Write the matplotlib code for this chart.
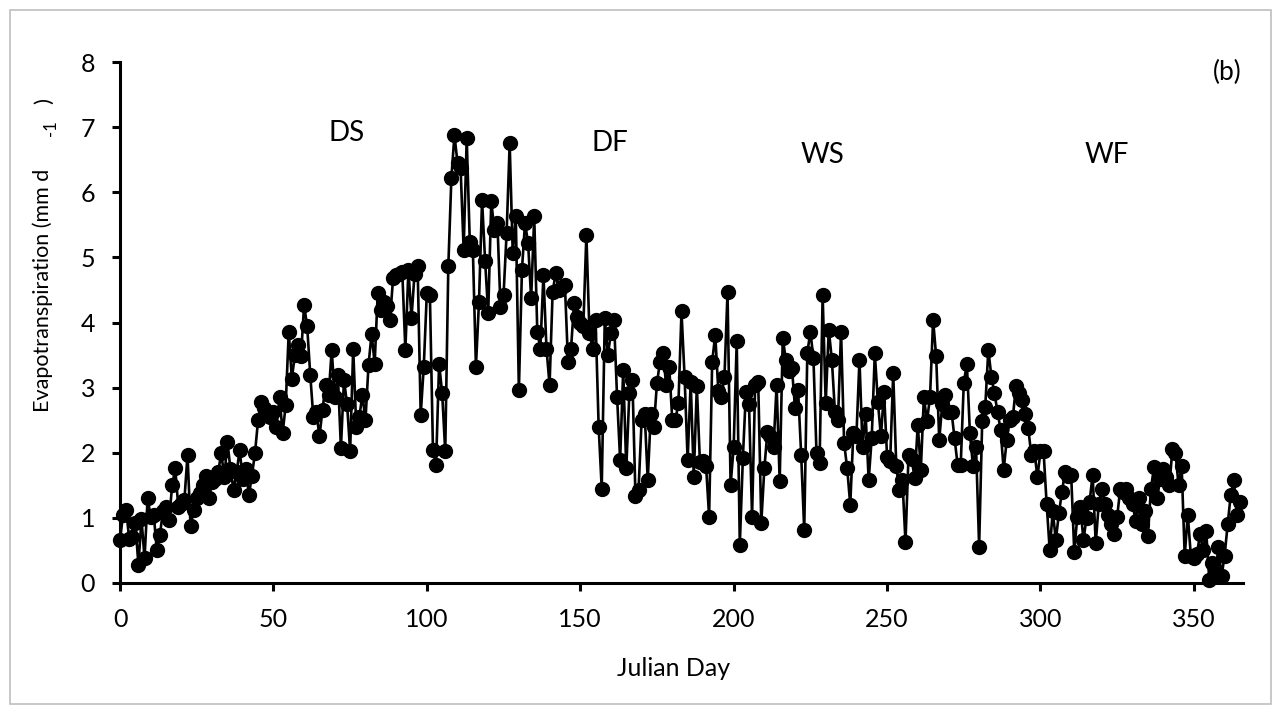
import numpy as np
import matplotlib
matplotlib.use("Agg")
import matplotlib.pyplot as plt
from matplotlib.patches import Rectangle

plt.rcParams['font.family'] = ['Lato', 'DejaVu Sans']

# Daily evapotranspiration (mm d-1), Julian day 0-365
days = np.arange(0, 366)
et = [
    0.66, 1.05, 1.12, 0.68, 0.70, 0.92, 0.28, 0.98, 0.38, 1.30,
    1.02, 1.05, 0.50, 0.74, 1.10, 1.17, 0.97, 1.50, 1.76, 1.17,
    1.22, 1.28, 1.97, 0.87, 1.12, 1.30, 1.38, 1.50, 1.65, 1.30,
    1.55, 1.60, 1.70, 2.00, 1.62, 2.17, 1.75, 1.43, 1.70, 2.04,
    1.60, 1.75, 1.35, 1.65, 2.00, 2.50, 2.78, 2.68, 2.62, 2.55,
    2.62, 2.40, 2.86, 2.30, 2.73, 3.86, 3.14, 3.50, 3.66, 3.48,
    4.27, 3.94, 3.20, 2.55, 2.62, 2.25, 2.66, 3.04, 2.89, 3.58,
    2.85, 3.20, 2.07, 3.12, 2.75, 2.02, 3.60, 2.40, 2.55, 2.89,
    2.50, 3.35, 3.83, 3.37, 4.45, 4.19, 4.32, 4.25, 4.04, 4.68,
    4.73, 4.75, 4.78, 3.58, 4.81, 4.07, 4.75, 4.86, 2.58, 3.32,
    4.45, 4.42, 2.04, 1.81, 3.37, 2.91, 2.02, 4.86, 6.22, 6.88,
    6.45, 6.37, 5.12, 6.83, 5.24, 5.12, 3.32, 4.32, 5.88, 4.94,
    4.14, 5.86, 5.42, 5.53, 4.24, 4.42, 5.37, 6.75, 5.06, 5.63,
    2.96, 4.81, 5.53, 5.22, 4.37, 5.63, 3.86, 3.60, 4.73, 3.60,
    3.04, 4.47, 4.76, 4.50, 4.55, 4.58, 3.40, 3.60, 4.30, 4.09,
    4.00, 3.94, 5.35, 3.84, 3.60, 4.04, 2.40, 1.45, 4.07, 3.50,
    3.84, 4.04, 2.86, 1.89, 3.27, 1.76, 2.91, 3.12, 1.33, 1.43,
    2.50, 2.60, 1.58, 2.60, 2.40, 3.07, 3.40, 3.53, 3.04, 3.32,
    2.50, 2.50, 2.76, 4.17, 3.17, 1.89, 3.09, 1.63, 3.02, 1.86,
    1.88, 1.80, 1.02, 3.40, 3.81, 2.95, 2.86, 3.17, 4.47, 1.50,
    2.09, 3.71, 0.58, 1.92, 2.94, 2.75, 1.02, 3.04, 3.09, 0.92,
    1.76, 2.32, 2.25, 2.09, 3.04, 1.56, 3.76, 3.43, 3.25, 3.30,
    2.68, 2.96, 1.97, 0.81, 3.53, 3.86, 3.45, 1.99, 1.84, 4.42,
    2.76, 3.89, 3.43, 2.63, 2.50, 3.86, 2.15, 1.76, 1.20, 2.30,
    2.25, 3.43, 2.09, 2.60, 1.58, 2.23, 3.53, 2.78, 2.25, 2.94,
    1.94, 1.87, 3.22, 1.79, 1.43, 1.58, 0.63, 1.97, 1.90, 1.61,
    2.43, 1.74, 2.86, 2.48, 2.86, 4.04, 3.48, 2.20, 2.75, 2.89,
    2.63, 2.63, 2.22, 1.81, 1.81, 3.07, 3.37, 2.30, 1.79, 2.09,
    0.56, 2.48, 2.71, 3.58, 3.17, 2.91, 2.63, 2.35, 1.74, 2.20,
    2.50, 2.55, 3.02, 2.91, 2.81, 2.60, 2.38, 1.97, 2.02, 1.63,
    2.02, 2.02, 1.22, 0.51, 1.10, 0.66, 1.07, 1.40, 1.71, 1.65,
    1.66, 0.48, 1.02, 1.17, 0.66, 1.00, 1.25, 1.66, 0.61, 1.22,
    1.45, 1.22, 1.04, 0.90, 0.76, 1.02, 1.45, 1.40, 1.45, 1.30,
    1.22, 0.95, 1.30, 0.90, 1.10, 0.72, 1.45, 1.78, 1.30, 1.60,
    1.75, 1.62, 1.50, 2.05, 2.00, 1.50, 1.80, 0.42, 1.05, 0.42,
    0.38, 0.45, 0.75, 0.50, 0.80, 0.05, 0.30, 0.15, 0.55, 0.10,
    0.42, 0.90, 1.35, 1.58, 1.05, 1.25,
]

season_labels = ["DS", "DF", "WS", "WF"]
season_x = [74, 159.5, 229, 321.5]
season_y = [6.91, 6.76, 6.57, 6.57]

x_ticks = [0, 50, 100, 150, 200, 250, 300, 350]
y_ticks = [0, 1, 2, 3, 4, 5, 6, 7, 8]

W, H = 1281, 715
fig = plt.figure(figsize=(W / 100, H / 100), dpi=100)


def fx(px):
    return px / W


def fy(py):
    return 1 - py / H


# light grey chart-area border
fig.patches.append(Rectangle((fx(10), fy(704)), fx(1271) - fx(10), fy(10) - fy(704),
                             transform=fig.transFigure, fill=False,
                             edgecolor="#BFBFBF", linewidth=1.2))

ax = fig.add_axes([fx(120), fy(583), fx(1243) - fx(120), fy(62) - fy(583)])
ax.plot(days, et, color="black", linewidth=1.9, marker="o", markersize=10,
        markerfacecolor="black", markeredgecolor="black", clip_on=False, zorder=3)

ax.set_xlim(0, 366)
ax.set_ylim(0, 8)
ax.set_xticks(x_ticks)
ax.set_yticks(y_ticks)
ax.tick_params(axis="both", direction="out", length=6, width=2.2, labelsize=18,
               color="black", labelcolor="black")
ax.tick_params(axis="x", pad=12)
ax.tick_params(axis="y", pad=12)
for side in ("top", "right"):
    ax.spines[side].set_visible(False)
for side in ("left", "bottom"):
    ax.spines[side].set_linewidth(2.2)
    ax.spines[side].set_color("black")

for lab, xx, yy in zip(season_labels, season_x, season_y):
    ax.text(xx, yy, lab, fontsize=20, ha="center", va="center")

fig.text(fx(1227), fy(72), "(b)", fontsize=19, ha="center", va="center")
fig.text(fx(674), fy(668), "Julian Day", fontsize=18, ha="center", va="center")

# y-axis title with the raised exponent placed as Excel draws it
fig.text(fx(43), fy(412), "Evapotranspiration (mm d", fontsize=15.5, rotation=90,
         rotation_mode="anchor", ha="left", va="center")
fig.text(fx(51), fy(128), "-1", fontsize=12, rotation=90,
         rotation_mode="anchor", ha="center", va="center")
fig.text(fx(44), fy(101), ")", fontsize=16, rotation=90,
         rotation_mode="anchor", ha="center", va="center")

fig.savefig("out.png", dpi=100)
